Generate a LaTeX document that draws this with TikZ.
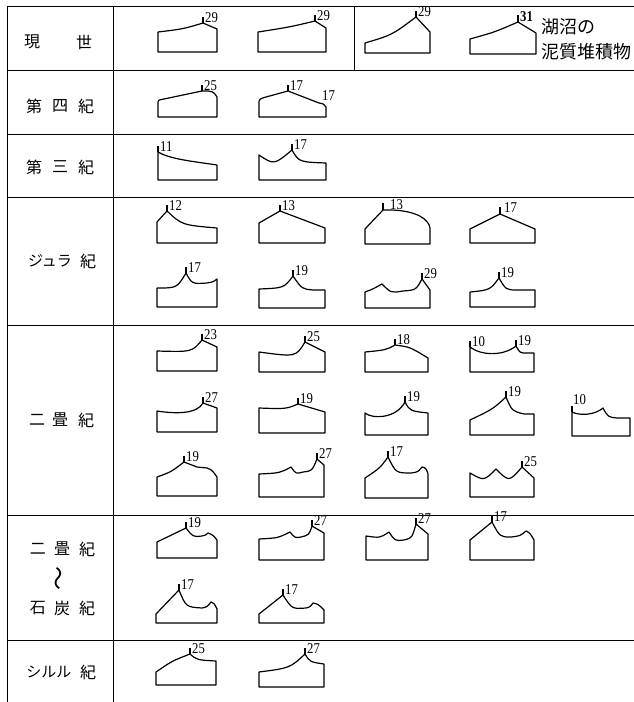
\documentclass[tikz,border=0pt]{standalone}
\usepackage{fontspec}
\newfontfamily\jp{Noto Sans CJK JP}
\newfontfamily\numfont[FakeStretch=0.85]{Liberation Serif}
\newcommand\tk[4]{\draw[tickln] (#1,#2) -- ++(0,-6); \node[num] (#4) at ({#1+2},{#2-1}) {#3};}
\begin{document}
\begin{tikzpicture}[x=1pt,y=-1pt,
  tbl/.style={line width=1pt},
  prof/.style={line width=1.2pt, line join=round},
  tickln/.style={line width=1.1pt},
  num/.style={font=\numfont\fontsize{15}{15}\selectfont, inner sep=0pt, anchor=base west},
  lab/.style={font=\jp\fontsize{16}{16}\selectfont, inner sep=0pt},
  note/.style={font=\jp\fontsize{18}{18}\selectfont, inner sep=0pt, anchor=west}]
\useasboundingbox (0,0) rectangle (634,702);
% table
\draw[tbl] (634,6) -- (7.5,6) -- (7.5,702);
\draw[tbl] (113,6) -- (113,702);
\foreach \yy in {70,134,197,325,515,640} \draw[tbl] (7.5,\yy) -- (634,\yy);
\draw[tbl] (354,6) -- (354,70);
% row labels
\node[lab] (g1a) at (32,42) {現};
\node[lab] (g1b) at (84,42) {世};
\node[lab] (g2a) at (34,106) {第};
\node[lab] (g2b) at (60,106) {四};
\node[lab] (g2c) at (86,106) {紀};
\node[lab] (g3a) at (34,167) {第};
\node[lab] (g3b) at (60,167) {三};
\node[lab] (g3c) at (86,167) {紀};
\node[lab, font=\jp\fontsize{15}{15}\selectfont] (g4a) at (50,261) {ジュラ};
\node[lab] (g4b) at (88,261) {紀};
\node[lab] (g5a) at (37,420) {二};
\node[lab] (g5b) at (60,420) {畳};
\node[lab] (g5c) at (86,420) {紀};
\node[lab] (g6a) at (38,549) {二};
\node[lab] (g6b) at (62,549) {畳};
\node[lab] (g6c) at (87,549) {紀};
\node[lab, font=\jp\fontsize{24}{24}\selectfont, rotate=90] (g6w) at (61,578) {〜};
\node[lab] (g6d) at (38,608) {石};
\node[lab] (g6e) at (62,608) {炭};
\node[lab] (g6f) at (87,608) {紀};
\node[lab, font=\jp\fontsize{15}{15}\selectfont] (g7a) at (49,672) {シルル};
\node[lab] (g7b) at (88,672) {紀};
% note
\node[note] (nt1) at (541,27) {湖沼の};
\node[note] (nt2) at (541,52) {泥質堆積物};

% ===== 現世
\draw[prof] (158,52) -- (158,32) .. controls (183,29) .. (203,23) -- (217,29) -- (217,52) -- cycle;
\tk{203}{23}{29}{a1}
\draw[prof] (258,52) -- (258,32) .. controls (290,27) .. (315,21) -- (326,28) -- (326,52) -- cycle;
\tk{315}{21}{29}{a2}
\draw[prof] (365,53) -- (365,43) .. controls (392,35) .. (416,17) -- (430,32) -- (430,53) -- cycle;
\tk{416}{17}{29}{a3}
\draw[prof] (470,54) -- (470,39) .. controls (495,32) .. (518,22) -- (536,33) -- (536,54) -- cycle;
\draw[tickln] (518,22) -- ++(0,-7);
\node[num, font=\numfont\bfseries\fontsize{15}{15}\selectfont] (a4) at (520,21) {31};

% ===== 第四紀
\draw[prof] (158,117) -- (158,104) .. controls (158,100) .. (164,99) -- (202,91) .. controls (213,91) .. (217,97) -- (217,117) -- cycle;
\tk{202}{91}{25}{b1}
\draw[prof] (259,117) -- (259,104) .. controls (259,99) .. (266,97) -- (288,91) -- (319,103) .. controls (324,104) .. (326,107) -- (326,117) -- cycle;
\tk{288}{91}{17}{b2}
\node[num] (b3) at (322,100) {17};

% ===== 第三紀
\draw[prof] (158,152) .. controls (170,159) and (190,161) .. (217,165) -- (217,180) -- (158,180) -- cycle;
\tk{158}{152}{11}{c1}
\draw[prof] (259,180) -- (259,155) .. controls (274,165) .. (292,150) .. controls (299,162) .. (326,163) -- (326,180) -- cycle;
\tk{292}{150}{17}{c2}

% ===== ジュラ紀 row 1
\draw[prof] (157,243) -- (157,222) -- (167,211) .. controls (182,225) .. (217,228) -- (217,243) -- cycle;
\tk{167}{211}{12}{d1}
\draw[prof] (259,243) -- (259,223) -- (280,211) -- (325,228) -- (325,243) -- cycle;
\tk{280}{211}{13}{d2}
\draw[prof] (365,244) -- (365,229) -- (383,210) -- (392,210) .. controls (418,211) and (429,220) .. (430,228) -- (430,244) -- cycle;
\draw[tickln] (383,210) -- ++(0,-7);
\node[num] (d3) at (390,209) {13};
\draw[prof] (470,243) -- (470,229) -- (500,214) -- (535,229) -- (535,243) -- cycle;
\draw[tickln] (500,214) -- ++(0,-7);
\node[num] (d4) at (504,212) {17};
% ===== ジュラ紀 row 2
\draw[prof] (157,307) -- (157,288) .. controls (177,288) .. (186,273) .. controls (192,284) .. (207,283) .. controls (213,282) .. (217,279) -- (217,307) -- cycle;
\tk{186}{273}{17}{e1}
\draw[prof] (259,308) -- (259,289) .. controls (284,288) .. (293,276) .. controls (302,289) .. (313,290) -- (325,290) -- (325,308) -- cycle;
\tk{293}{276}{19}{e2}
\draw[prof] (365,308) -- (365,292) .. controls (373,289) .. (382,284) .. controls (391,293) .. (403,291) .. controls (416,290) .. (422,279) -- (430,290) -- (430,308) -- cycle;
\tk{422}{279}{29}{e3}
\draw[prof] (470,307) -- (470,292) .. controls (490,290) .. (499,278) .. controls (506,290) .. (518,290) -- (535,290) -- (535,307) -- cycle;
\tk{499}{278}{19}{e4}

% ===== 二畳紀 row 1
\draw[prof] (157,371) -- (157,351) .. controls (192,352) .. (202,340) -- (217,347) -- (217,371) -- cycle;
\tk{202}{340}{23}{f1}
\draw[prof] (259,372) -- (259,352) .. controls (296,357) .. (305,342) -- (325,352) -- (325,372) -- cycle;
\tk{305}{342}{25}{f2}
\draw[prof] (365,372) -- (365,352) .. controls (386,350) .. (395,345) .. controls (410,347) .. (428,358) -- (428,372) -- cycle;
\tk{395}{345}{18}{f3}
\draw[prof] (470,372) -- (470,347) .. controls (480,355) and (502,357) .. (516,346) .. controls (520,353) .. (527,353) -- (534,353) -- (534,372) -- cycle;
\tk{470}{347}{10}{f4}
\tk{516}{346}{19}{f5}
% ===== 二畳紀 row 2
\draw[prof] (157,432) -- (157,411) .. controls (176,414) and (197,414) .. (203,403) -- (217,408) -- (217,432) -- cycle;
\tk{203}{403}{27}{g1}
\draw[prof] (259,433) -- (259,408) .. controls (286,409) .. (298,404) -- (325,412) -- (325,433) -- cycle;
\tk{298}{404}{19}{g2}
\draw[prof] (365,435) -- (365,413) .. controls (372,419) and (396,419) .. (405,402) .. controls (410,411) .. (428,413) -- (428,435) -- cycle;
\tk{405}{402}{19}{g3}
\draw[prof] (470,435) -- (470,420) .. controls (493,409) .. (506,397) .. controls (512,411) .. (524,414) -- (534,414) -- (534,435) -- cycle;
\tk{506}{397}{19}{g4}
\draw[prof] (572,436) -- (572,412) .. controls (580,416) and (595,415) .. (603,408) .. controls (608,417) .. (617,418) -- (630,418) -- (630,436) -- cycle;
\draw[tickln] (572,412) -- ++(0,-6);
\node[num] (g5) at (573,404) {10};
% ===== 二畳紀 row 3
\draw[prof] (157,496) -- (157,477) .. controls (171,472) .. (184,462) -- (197,467) -- (207,468) .. controls (212,470) .. (217,477) -- (217,496) -- cycle;
\tk{184}{462}{19}{h1}
\draw[prof] (259,497) -- (259,474) .. controls (280,473) .. (291,467) .. controls (296,474) .. (303,472) .. controls (312,471) .. (317,459) -- (324,465) -- (324,497) -- cycle;
\tk{317}{459}{27}{h2}
\draw[prof] (365,498) -- (365,478) .. controls (380,468) .. (388,457) .. controls (396,473) .. (411,473) .. controls (418,472) .. (422,467) .. controls (426,468) .. (428,474) -- (428,498) -- cycle;
\tk{388}{457}{17}{h3}
\draw[prof] (470,497) -- (470,473) .. controls (484,481) .. (496,469) .. controls (509,482) .. (522,467) -- (534,478) -- (534,497) -- cycle;
\tk{522}{467}{25}{h4}

% ===== 二畳紀〜石炭紀 row 1
\draw[prof] (157,558) -- (157,542) -- (186,528) .. controls (193,537) .. (202,536) .. controls (206,535) .. (208,533) .. controls (213,535) .. (217,540) -- (217,558) -- cycle;
\tk{186}{528}{19}{i1}
\draw[prof] (259,560) -- (259,539) .. controls (278,538) .. (290,532) .. controls (295,538) .. (301,537) .. controls (309,535) .. (312,526) -- (324,533) -- (324,560) -- cycle;
\tk{312}{526}{27}{i2}
\draw[prof] (366,560) -- (366,536) .. controls (380,538) .. (389,532) .. controls (395,541) .. (404,540) .. controls (412,538) .. (416,524) -- (428,534) -- (428,560) -- cycle;
\tk{416}{524}{27}{i3}
\draw[prof] (470,560) -- (470,540) -- (492,522) .. controls (500,537) .. (511,537) .. controls (520,536) .. (526,531) .. controls (530,533) .. (534,540) -- (534,560) -- cycle;
\tk{492}{522}{17}{i4}
% ===== row 2
\draw[prof] (156,623) -- (156,614) -- (179,590) .. controls (186,607) .. (202,608) .. controls (207,607) .. (211,602) .. controls (214,603) .. (217,609) -- (217,623) -- cycle;
\tk{179}{590}{17}{j1}
\draw[prof] (259,623) -- (259,614) -- (283,595) .. controls (292,609) .. (306,608) .. controls (310,607) .. (313,603) .. controls (318,604) .. (324,610) -- (324,623) -- cycle;
\tk{283}{595}{17}{j2}

% ===== シルル紀
\draw[prof] (156,685) -- (156,672) .. controls (172,661) .. (190,654) .. controls (197,660) .. (216,661) -- (216,685) -- cycle;
\tk{190}{654}{25}{k1}
\draw[prof] (259,687) -- (259,672) .. controls (290,668) .. (305,654) .. controls (310,662) .. (324,664) -- (324,687) -- cycle;
\tk{305}{654}{27}{k2}
\end{tikzpicture}
\end{document}
